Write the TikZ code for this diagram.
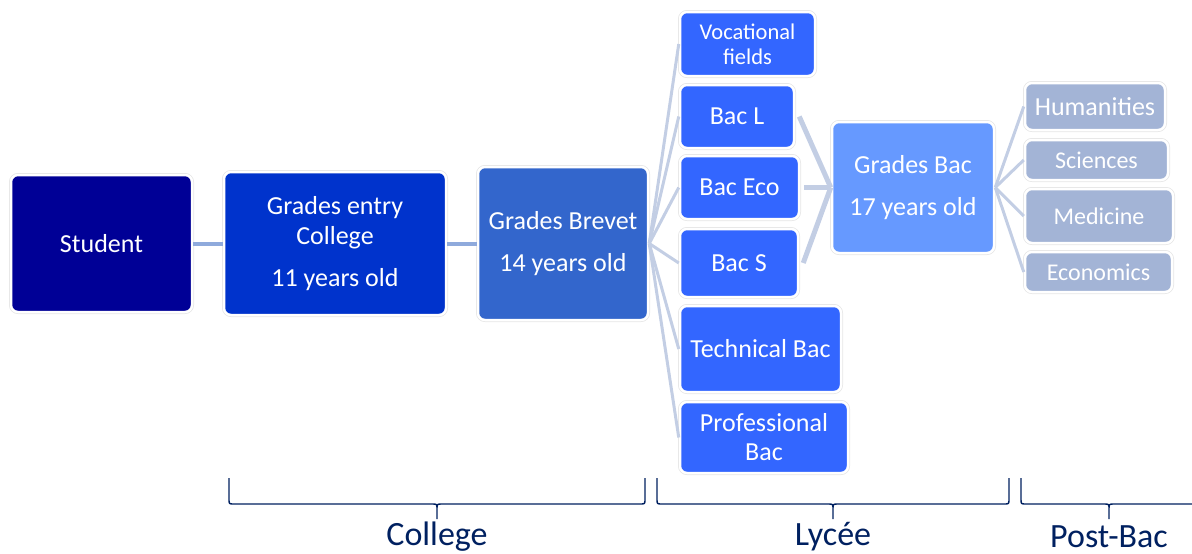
\documentclass[tikz,border=0pt]{standalone}
\usepackage{fontspec}
\setmainfont{Carlito}
\definecolor{cNavy}{RGB}{0,0,150}
\definecolor{cEntry}{RGB}{0,51,204}
\definecolor{cBrevet}{RGB}{51,102,204}
\definecolor{cBac}{RGB}{51,102,255}
\definecolor{cGradesBac}{RGB}{102,153,255}
\definecolor{cPost}{RGB}{163,180,214}
\definecolor{cLink}{RGB}{143,170,220}
\definecolor{cFan}{RGB}{195,206,228}
\definecolor{cBrace}{RGB}{0,32,96}
\tikzset{
  box/.style={rounded corners=7pt, text=white, align=center, inner sep=0pt,
    preaction={draw=black!10, line width=4pt}, draw=white, line width=2.5pt},
  big/.style={font=\fontsize{26}{30}\selectfont},
  small/.style={font=\fontsize{24}{28}\selectfont},
  fan/.style={draw=cFan, line width=3pt},
  bracepath/.style={draw=cBrace, line width=1.4pt},
}
\begin{document}
\begin{tikzpicture}[x=1pt, y=-1pt]
    \useasboundingbox (0,0) rectangle (1192,554);
    % Collège
    \node[box, big, fill=cNavy, minimum width=181, minimum height=137] (student) at (101.5,243.5) {Student};
    \node[box, big, fill=cEntry, minimum width=222, minimum height=143] (entry) at (335,243.5) {Grades entry\\College\\[12pt]11 years old};
    \node[box, big, fill=cBrevet, minimum width=170, minimum height=153] (brevet) at (563,243.5) {Grades Brevet\\[12pt]14 years old};
    % Lycée
    \node[box, fill=cBac, font=\fontsize{22.5}{25}\selectfont, minimum width=135, minimum height=64] (voc) at (747.5,44) {Vocational\\fields};
    \node[box, big, fill=cBac, minimum width=114, minimum height=63] (bacl) at (737,116.5) {Bac L};
    \node[box, big, fill=cBac, minimum width=119, minimum height=63] (baceco) at (739.5,187.5) {Bac Eco};
    \node[box, big, fill=cBac, minimum width=118, minimum height=68] (bacs) at (739,263) {Bac S};
    \node[box, big, fill=cBac, minimum width=161, minimum height=86] (tech) at (760.5,349) {Technical Bac};
    \node[box, fill=cBac, font=\fontsize{26}{29}\selectfont, minimum width=168, minimum height=71] (prof) at (764,437.5) {Professional\\Bac};
    \node[box, big, fill=cGradesBac, minimum width=162, minimum height=131] (gbac) at (913,187.5) {Grades Bac\\[12pt]17 years old};
    % Post-Bac
    \node[box, big, fill=cPost, minimum width=140, minimum height=47] (hum) at (1095,106.5) {Humanities};
    \node[box, small, fill=cPost, minimum width=143, minimum height=40] (sci) at (1096.5,160) {Sciences};
    \node[box, small, fill=cPost, minimum width=148, minimum height=54] (med) at (1099,216) {Medicine};
    \node[box, small, fill=cPost, minimum width=147, minimum height=40] (eco) at (1098.5,272) {Economics};
    % liens
    \draw[draw=cLink, line width=4pt] (student) -- (entry);
    \draw[draw=cLink, line width=4pt] (entry) -- (brevet);
    \foreach \c in {voc,bacl,baceco,bacs,tech,prof} {
        \draw[fan] (brevet.east) -- (\c.west);
    }
    \foreach \c in {bacl,baceco,bacs} {
        \draw[fan, line width=5pt] ([xshift=4pt]\c.east) -- (gbac.west);
    }
    \foreach \c in {hum,sci,med,eco} {
        \draw[fan] (gbac.east) -- (\c.west);
    }
    % accolades
    \foreach \a/\m/\b/\n/\t in {229/437/645/college/College, 657/833/1009/lycee/Lycée, 1021/1109/1200/postbac/Post-Bac} {
        \draw[bracepath] (\a,478) -- (\a,499) .. controls (\a,504) .. ({\a+5},504) -- ({\m-5},504)
            .. controls (\m,504) .. (\m,509) -- (\m,519)
            (\m,509) .. controls (\m,504) .. ({\m+5},504) -- ({\b-5},504)
            .. controls (\b,504) .. (\b,499) -- (\b,478);
        \node[text=cBrace, font=\fontsize{34}{40}\selectfont] (\n) at (\m,537) {\t};
    }
\end{tikzpicture}
\end{document}
